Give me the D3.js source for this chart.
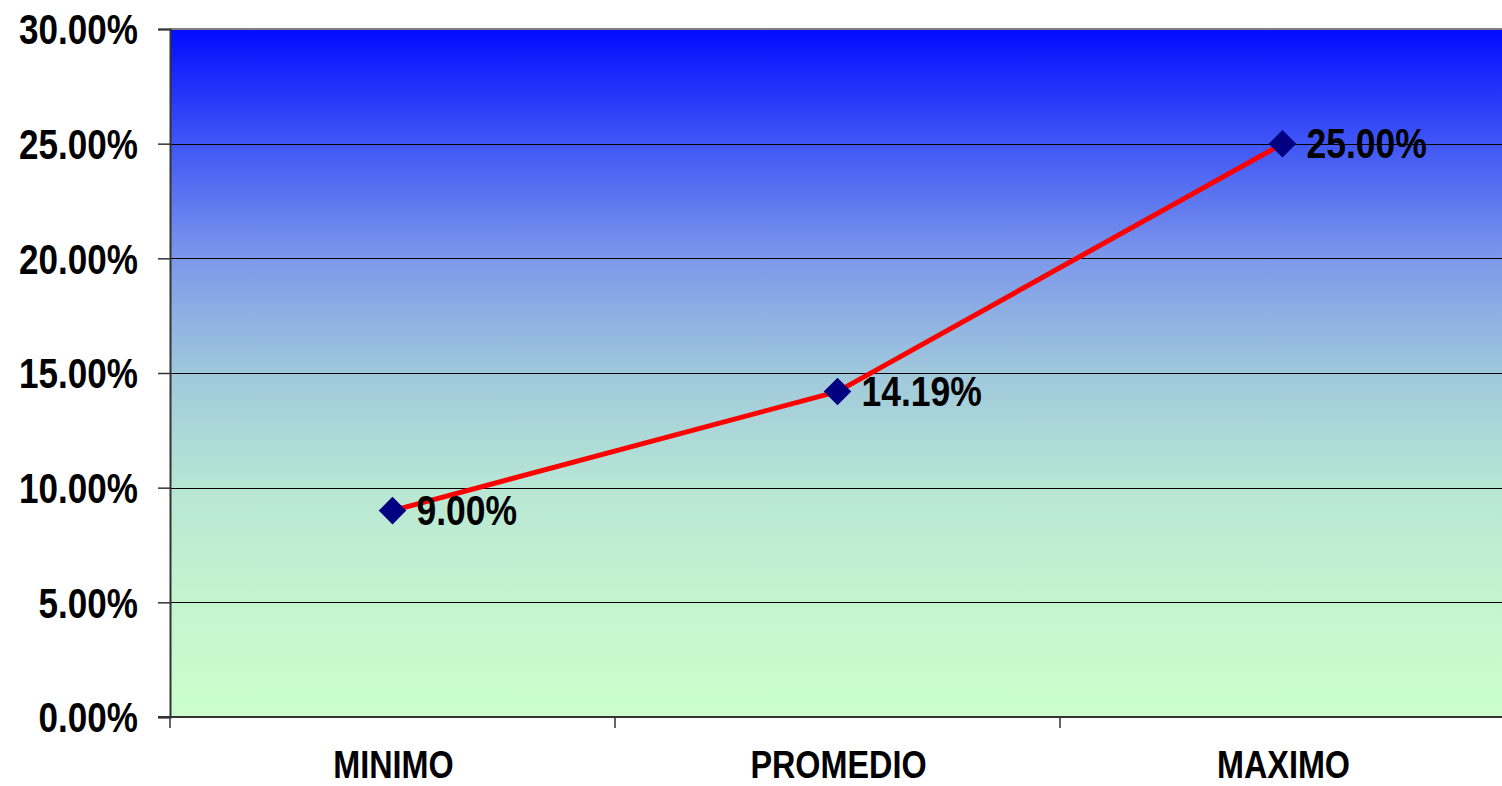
<!DOCTYPE html>
<html>
<head>
<meta charset="utf-8">
<script src="https://cdn.jsdelivr.net/npm/d3@7"></script>
<style>
  html, body { margin: 0; padding: 0; background: #fff; }
  svg { display: block; }
  text { font-family: "Liberation Sans", Arial, sans-serif; font-weight: bold; fill: #000; }
</style>
</head>
<body>
<svg id="chart" width="1502" height="786"></svg>
<script>
const categories = ["MINIMO", "PROMEDIO", "MAXIMO"];
const values = [0.09, 0.1419, 0.25];
const valueLabels = ["9.00%", "14.19%", "25.00%"];
const yTicks = [0, 0.05, 0.10, 0.15, 0.20, 0.25, 0.30];
const yTickLabels = ["0.00%", "5.00%", "10.00%", "15.00%", "20.00%", "25.00%", "30.00%"];

const W = 1502, H = 786;
const margin = { left: 170, top: 29, right: -3, bottom: 69 };
const x0 = margin.left, x1 = W - margin.right;
const y0 = H - margin.bottom, y1 = margin.top;

const svg = d3.select("#chart");

const x = d3.scaleBand().domain(categories).range([x0, x1]).padding(0);
const y = d3.scaleLinear().domain([0, 0.30]).range([y0, y1]);

// gradient
const defs = svg.append("defs");
const grad = defs.append("linearGradient").attr("id", "bg")
  .attr("x1", 0).attr("y1", 0).attr("x2", 0).attr("y2", 1);
[[0, "#000CFF"], [0.167, "#4056F5"], [0.333, "#7C98EA"], [0.5, "#A0C8DC"],
 [0.667, "#B8E6D4"], [0.833, "#C4F4CE"], [1, "#CCFFCC"]]
  .forEach(([o, c]) => grad.append("stop").attr("offset", o).attr("stop-color", c));

svg.append("rect").attr("x", x0).attr("y", y1).attr("width", x1 - x0).attr("height", y0 - y1)
  .attr("fill", "url(#bg)");

// gridlines
svg.append("g").selectAll("line").data(yTicks.filter(d => d > 0 && d < 0.30)).join("line")
  .attr("x1", x0).attr("x2", x1)
  .attr("y1", d => Math.round(y(d)) + 0.5).attr("y2", d => Math.round(y(d)) + 0.5)
  .attr("stroke", "#000").attr("stroke-width", 1);

// top border
svg.append("line").attr("x1", x0).attr("x2", x1).attr("y1", y1).attr("y2", y1)
  .attr("stroke", "#808080").attr("stroke-width", 2);

// Y axis
const yAxis = d3.axisLeft(y).tickValues(yTicks).tickSize(12).tickFormat(() => "");
const gy = svg.append("g").attr("transform", `translate(${x0},0)`).call(yAxis);
gy.select(".domain").attr("stroke", "#333").attr("stroke-width", 2);
gy.selectAll(".tick line").attr("stroke", "#333").attr("stroke-width", 1.5);

gy.selectAll(".tick").each(function(d) {
  d3.select(this).append("text")
    .attr("transform", `translate(-32,0) scale(0.835,1)`)
    .attr("text-anchor", "end").attr("dy", "0.35em")
    .style("font-size", "42px").attr("fill", "#000")
    .text(yTickLabels[yTicks.indexOf(d)]);
});

// X axis
const boundaries = [x0, ...categories.map(c => x(c) + x.bandwidth())];
svg.append("line").attr("x1", x0 - 12).attr("x2", x1).attr("y1", y0).attr("y2", y0)
  .attr("stroke", "#333").attr("stroke-width", 2);
svg.append("g").selectAll("line").data(boundaries).join("line")
  .attr("x1", d => d).attr("x2", d => d).attr("y1", y0).attr("y2", y0 + 11)
  .attr("stroke", "#333").attr("stroke-width", 1.5);

svg.append("g").selectAll("text").data(categories).join("text")
  .attr("transform", d => `translate(${x(d) + x.bandwidth() / 2 + 1},${y0 + 61}) scale(0.83,1)`)
  .attr("text-anchor", "middle")
  .style("font-size", "39px")
  .text(d => d);

// line
const pts = categories.map((c, i) => [x(c) + x.bandwidth() / 2, y(values[i])]);
svg.append("path").datum(pts)
  .attr("d", d3.line())
  .attr("fill", "none").attr("stroke", "#FF0000").attr("stroke-width", 5)
  .attr("stroke-linejoin", "round");

// markers
const sym = d3.symbol().type(d3.symbolSquare).size(380);
svg.append("g").selectAll("path").data(pts).join("path")
  .attr("d", sym)
  .attr("transform", d => `translate(${d[0]},${d[1]}) rotate(45)`)
  .attr("fill", "#000080");

// data labels
svg.append("g").selectAll("text").data(pts).join("text")
  .attr("transform", d => `translate(${d[0] + 24},${d[1]}) scale(0.845,1)`)
  .attr("dy", "0.35em")
  .style("font-size", "42px")
  .text((d, i) => valueLabels[i]);
</script>
</body>
</html>
